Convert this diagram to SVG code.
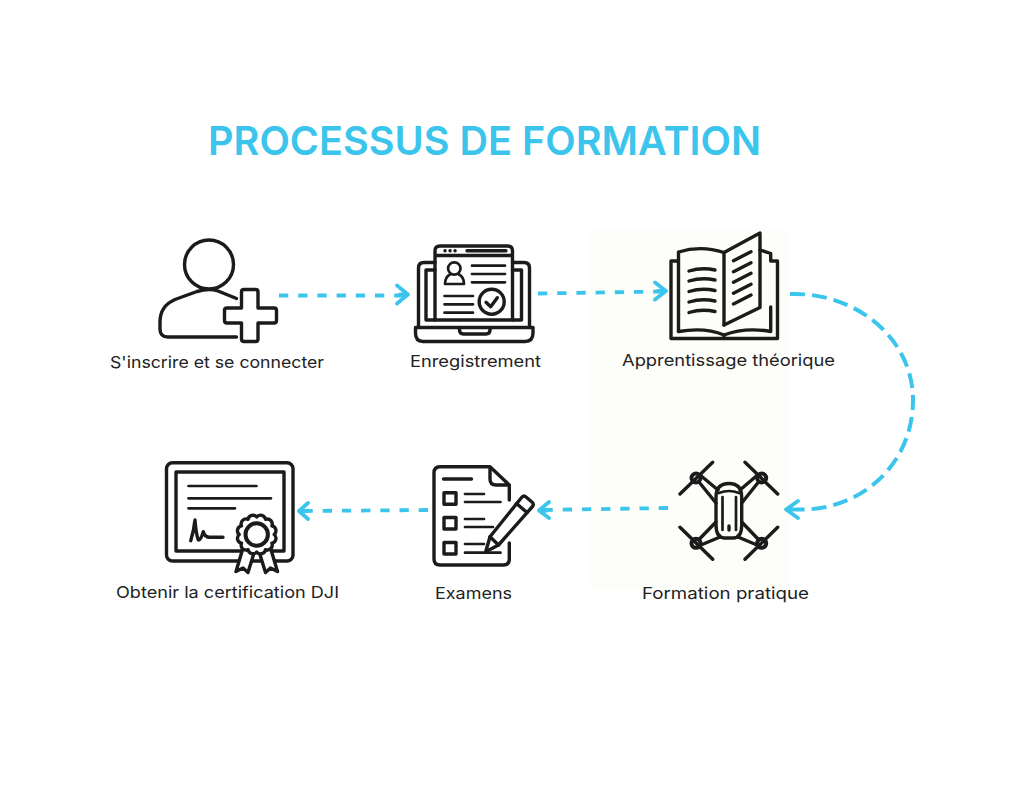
<svg xmlns="http://www.w3.org/2000/svg" width="1024" height="808" viewBox="0 0 1024 808">
<defs><style>
.ic{fill:none;stroke:#1b1b1b;stroke-width:3.4;stroke-linecap:round;stroke-linejoin:round}
.th{stroke-width:2.7}
.dash{fill:none;stroke:#3cc5ec;stroke-width:3.8;stroke-dasharray:9.3 9.9}
.arc{stroke-dasharray:15 7;stroke-width:4}
.head{fill:none;stroke:#3cc5ec;stroke-width:3.8;stroke-linecap:round;stroke-linejoin:round}
.lb{font-family:"Inter","Open Sans","Liberation Sans",sans-serif;font-size:16.5px;font-weight:400;fill:#222}
.title{font-family:"Inter","Open Sans","Liberation Sans",sans-serif;font-size:40px;font-weight:600;fill:#3cc5ec}
</style></defs>
<rect width="1024" height="808" fill="#fff"/>
<rect x="590" y="230" width="200" height="360" fill="#fdfdfa"/>
<text class="title" x="208" y="155" textLength="553" lengthAdjust="spacingAndGlyphs">PROCESSUS DE FORMATION</text>

<g id="connectors">
<path class="dash" d="M279 295.5H405"/><path class="head" d="M397 285.5L408 294.5L397 303.5M400 294.5H407"/>
<path class="dash" d="M538 293.5L662 291.5"/><path class="head" d="M655 282.5L666 291L655 299.5M658 291H665"/>
<path class="dash arc" d="M790 294C858 292 913 340 913 400C913 465 860 512 796 509.5"/><path class="head" d="M798 501L786 509.5L798 518M787 509.5H795"/>
<path class="dash" d="M668 508L542 510"/><path class="head" d="M549 502L539 510.5L549 518M540 510.5H547"/>
<path class="dash" d="M428 510L302 511"/><path class="head" d="M308 503L299 511L308 519M300 511H307"/>
</g>

<g id="node-inscrire">
<circle class="ic" cx="209" cy="264.5" r="24.5"/>
<path class="ic" d="M236.5 298.5L218 291Q209 288 197 291.5L175 299.5Q160 306 160 322V329Q160 337 168 337H236.5"/>
<path class="ic" d="M244 289.5H255.5Q258 289.5 258 292V308H274Q276.5 308 276.5 310.5V320.5Q276.5 323 274 323H258V339Q258 341.5 255.5 341.5H244Q241.5 341.5 241.5 339V323H227Q224.5 323 224.5 320.5V310.5Q224.5 308 227 308H241.5V292Q241.5 289.5 244 289.5Z"/>
<text class="lb" x="110" y="367.5" textLength="214" lengthAdjust="spacingAndGlyphs">S'inscrire et se connecter</text>
</g>

<g id="node-enregistrement">
<path class="ic" d="M435 262.5H424Q418.5 262.5 418.5 268V327M512.5 262.5H524Q529.5 262.5 529.5 268V327"/>
<path class="ic" d="M435 270H426V320H521.5V270H512.5"/>
<path class="ic" d="M435 320V251Q435 246 440 246H507.5Q512.5 246 512.5 251V320M435 255.5H512.5"/>
<path class="ic" d="M445 250.7h.1M450 250.7h.1M455 250.7h.1M467 250.7H506"/>
<circle class="ic th" cx="454.3" cy="268.5" r="6.2"/>
<path class="ic th" d="M450 274.5Q445 277 445 284H464Q464 277 459 274.5"/>
<path class="ic th" d="M472 265.7H505M472 274H505M472 282.3H505M444.5 296H473M444.5 304.3H473M444.5 312.7H473"/>
<circle class="ic" cx="491.7" cy="301.7" r="12.5"/>
<path class="ic" d="M486 302.3L490.7 306.7L497.3 297.7"/>
<path class="ic" d="M415.5 327.5H533V333Q533 341.5 525 341.5H423Q415.5 341.5 415.5 333Z"/>
<path class="ic" d="M459.5 327.5V330Q459.5 334 463.5 334H486Q490 334 490 330V327.5"/>
<text class="lb" x="410" y="366.5" textLength="131" lengthAdjust="spacingAndGlyphs">Enregistrement</text>
</g>

<g id="node-apprentissage">
<path class="ic" d="M678.5 261H671V338.5H777.5V261H770.7V253.5L760 250"/>
<path class="ic" d="M678.5 331.5V252Q701 245 724 252.5V325"/>
<path class="ic" d="M724 252.5L760 233V307.5L724 325"/>
<path class="ic" d="M678.5 331.5Q705 327 724 335V338M724 335Q745 327 770.7 331.5V307"/>
<path class="ic" d="M689 271Q702 267 715 270M689 281Q702 277 715 280M689 291.5Q702 287.5 715 290.5M689 302Q702 298 715 301M689 312.5Q702 308.5 715 311.5"/>
<path class="ic" d="M733.5 260.7L751 251.7M733.5 271.7L751 262.7M733.5 282.3L751 273.3M733.5 293.3L751 284.3M733.5 304L751 295"/>
<text class="lb" x="622" y="365.5" textLength="213" lengthAdjust="spacingAndGlyphs">Apprentissage théorique</text>
</g>

<g id="node-formation">
<path class="ic" d="M680 494L712.7 462.3M745 462.3L777.7 494M680 527.3L712.7 559.3M777.7 527.3L745 559.3"/>
<circle class="ic" cx="696" cy="478" r="4.5" style="stroke-width:4"/><circle class="ic" cx="761.7" cy="478" r="4.5" style="stroke-width:4"/><circle class="ic" cx="696" cy="543.3" r="4.5" style="stroke-width:4"/><circle class="ic" cx="761.7" cy="543.3" r="4.5" style="stroke-width:4"/>
<path class="ic" d="M699 482L716 503M700 475L718 490M758.5 482L741.7 503M757.5 475L740 490M699 539.5L716 522M701 545L720 537M758.5 539.5L741.7 522M757 545L738 537"/>
<path class="ic" d="M716 497Q716 483.5 729 483.5Q741.7 483.5 741.7 497V525Q741.7 538 733 538H725Q716 538 716 525Z"/>
<path class="ic th" d="M719 493Q729 489 739 493M722.5 497V530M736 497V530"/>
<path class="ic" d="M729 526V530"/>
<text class="lb" x="642" y="598.5" textLength="167" lengthAdjust="spacingAndGlyphs">Formation pratique</text>
</g>

<g id="node-examens">
<path class="ic" d="M490 466.7H440Q434 466.7 434 473V559Q434 565 440 565H503Q509.3 565 509.3 559V543M509.3 500V485L490 466.7V479Q490 485 496 485H509.3"/>
<path class="ic" d="M443.5 479H471.5"/>
<rect class="ic" x="444" y="492.7" width="12" height="11.5"/><rect class="ic" x="444" y="517.5" width="12" height="11.5"/><rect class="ic" x="444" y="542.5" width="12" height="11.5"/>
<path class="ic th" d="M465 494H484M465 502H500.5M465 519H484M465 527H493M465 544H484M465 552.7H500.5"/>
<path class="ic" d="M485.7 551.7L490 536.7L522 497Q524 495 526 497L532.5 502.5Q534 504.5 532.5 506.5L498.5 545Z"/>
<path class="ic" d="M516.5 503.5L527 512.5M490 536.7L498.5 545"/>
<text class="lb" x="435" y="598.5" textLength="77" lengthAdjust="spacingAndGlyphs">Examens</text>
</g>

<g id="node-certification">
<rect class="ic" x="166.5" y="462.7" width="126.5" height="98.3" rx="6"/>
<rect class="ic" x="176" y="472" width="108" height="79"/>
<path class="ic th" d="M188.5 486H256.5M188.5 498.3H271M188.5 508.3H235"/>
<path class="ic" d="M190.7 540.7Q194 530 195 520Q196 534 198.3 540Q201 540 203.3 531.7Q205 537.5 210 537.3H223"/>
<path d="M243 548L236 571.5L243 568L248 572.5L254 553ZM270.5 548L277.5 571.5L270.5 568L265.5 572.5L259.5 553Z" fill="#fff" stroke="#1b1b1b" stroke-width="3.4" stroke-linejoin="round"/>
<path fill="#fff" stroke="#1b1b1b" stroke-width="3.4" stroke-linejoin="round" d="M274.2 534.5A5 5 0 0 1 271.9 543.2A5 5 0 0 1 265.5 549.7A5 5 0 0 1 256.7 552A5 5 0 0 1 248 549.7A5 5 0 0 1 241.5 543.2A5 5 0 0 1 239.2 534.5A5 5 0 0 1 241.5 525.8A5 5 0 0 1 248 519.3A5 5 0 0 1 256.7 517A5 5 0 0 1 265.5 519.3A5 5 0 0 1 271.9 525.8A5 5 0 0 1 274.2 534.5Z"/>
<circle class="ic" cx="256.7" cy="534.5" r="11.2" style="stroke-width:4"/>
<text class="lb" x="116" y="597.5" textLength="223" lengthAdjust="spacingAndGlyphs">Obtenir la certification DJI</text>
</g>
</svg>
